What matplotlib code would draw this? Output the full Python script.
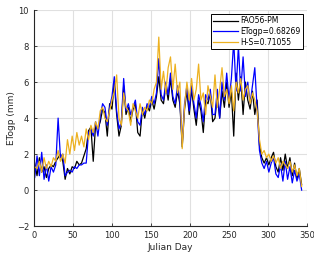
import matplotlib
matplotlib.use("Agg")
import matplotlib.pyplot as plt

days = list(range(1, 344, 3))

fao56_pm = [1.5, 0.8, 1.8, 1.0, 1.3, 0.7, 1.2, 1.4, 1.3, 1.6, 1.8, 2.0, 1.6, 0.6, 1.2, 0.9, 1.3, 1.2, 1.6, 1.4,
            1.5, 1.9, 2.3, 3.3, 3.5, 1.6, 3.6, 3.4, 3.8, 4.5, 4.3, 3.0, 4.8, 4.5, 6.0, 4.2, 3.0, 3.6, 5.8, 4.2,
            4.6, 3.8, 4.5, 4.8, 3.2, 3.0, 4.5, 4.0, 4.7, 4.4, 5.0, 4.5, 5.2, 6.3, 5.0, 4.8, 5.8, 5.0, 6.2, 5.0,
            4.6, 5.5, 4.8, 2.4, 4.5, 5.5, 4.2, 5.6, 4.5, 3.6, 5.0, 4.4, 3.2, 5.0, 4.8, 5.4, 3.8, 4.0, 5.2, 4.0,
            5.5, 4.6, 6.0, 4.6, 5.5, 3.0, 6.5, 5.0, 6.3, 4.2, 6.0, 5.0, 4.5, 5.5, 4.2, 5.0, 2.5, 1.8, 1.5, 1.8,
            1.4, 1.8, 2.1, 1.3, 1.0, 1.8, 1.1, 2.0, 1.2, 1.8, 0.8, 1.5, 0.6, 1.2, 0.3]

etogp = [0.7, 1.9, 0.8, 2.1, 0.6, 1.4, 0.5, 1.3, 1.0, 1.4, 4.0, 1.8, 2.0, 0.8, 1.0, 1.1, 1.0, 1.3, 1.2, 1.4,
         1.4, 1.5, 1.5, 3.2, 3.4, 3.0, 3.8, 3.0, 4.1, 4.8, 4.6, 3.6, 4.6, 5.2, 6.3, 4.4, 3.4, 3.8, 6.2, 4.4,
         4.8, 4.2, 4.6, 5.0, 3.8, 3.6, 4.6, 4.2, 4.8, 4.6, 5.2, 4.8, 5.4, 7.3, 5.3, 5.0, 6.0, 5.3, 6.5, 5.2,
         4.8, 5.8, 5.0, 2.6, 4.8, 5.8, 4.4, 5.8, 4.8, 4.0, 5.3, 4.7, 3.8, 5.3, 5.0, 5.6, 4.2, 4.2, 5.6, 4.0,
         6.0, 5.0, 6.5, 5.0, 6.2, 8.3, 5.5, 8.0, 5.5, 7.4, 5.2, 6.0, 4.8, 5.8, 6.8, 4.5, 2.2, 1.5, 1.2, 1.6,
         1.0, 1.5, 1.8, 0.9, 0.7, 1.4, 0.5, 1.6, 0.6, 1.3, 0.4, 1.1, 0.5, 0.9, 0.0]

hs = [1.3, 1.2, 1.6, 1.0, 1.8, 1.2, 1.6, 1.3, 1.8, 1.6, 2.2, 1.6, 2.0, 1.5, 2.8, 2.0, 3.0, 2.2, 3.2, 2.5,
      3.0, 2.4, 3.4, 2.8, 3.6, 3.2, 3.8, 3.4, 4.4, 4.6, 4.0, 3.8, 4.4, 5.0, 5.5, 6.4, 4.0, 3.6, 5.4, 4.6,
      4.4, 3.6, 4.8, 4.4, 4.0, 4.8, 4.2, 4.6, 4.4, 5.0, 4.8, 5.6, 6.0, 8.5, 5.6, 6.6, 5.4, 6.8, 7.4, 5.6,
      7.0, 5.4, 6.0, 2.3, 4.6, 6.0, 5.0, 6.2, 5.0, 5.6, 7.0, 5.0, 5.4, 4.2, 5.8, 5.2, 4.6, 6.4, 4.6, 5.6,
      6.8, 5.2, 5.6, 4.8, 5.8, 4.4, 6.0, 5.4, 6.2, 5.0, 5.6, 5.8, 4.8, 5.4, 5.0, 4.4, 2.8, 2.0, 2.2, 1.8,
      2.0, 1.6, 1.9, 1.5, 1.8, 1.2, 1.6, 1.4, 1.2, 1.6, 1.0, 1.4, 0.8, 1.2, 0.2]

labels = ["FAO56-PM", "ETogp=0.68269", "H-S=0.71055"]
colors = ["black", (0, 0, 1), (0.929, 0.694, 0.125)]

fig = plt.figure(figsize=(3.14, 2.59), dpi=100)
ax = fig.add_axes([0.108, 0.127, 0.870, 0.834])

for series, lab, col in zip([fao56_pm, etogp, hs], labels, colors):
    ax.plot(days, series, color=col, lw=0.9, label=lab)

ax.set_xlim(0, 350)
ax.set_ylim(-2, 10)
ax.set_xticks([0, 50, 100, 150, 200, 250, 300, 350])
ax.set_yticks([-2, 0, 2, 4, 6, 8, 10])
ax.grid(True, color=(0.88, 0.88, 0.88), lw=0.8)
ax.set_axisbelow(True)
for s in ["top", "right"]:
    ax.spines[s].set_visible(False)
for s in ["left", "bottom"]:
    ax.spines[s].set_color((0.15, 0.15, 0.15))
    ax.spines[s].set_linewidth(0.8)
ax.tick_params(direction="in", length=2.5, labelsize=6, colors=(0.15, 0.15, 0.15), width=0.6)
ax.set_xlabel("Julian Day", fontsize=6.5, color=(0.15, 0.15, 0.15), labelpad=2)
ax.set_ylabel("ETogp (mm)", fontsize=6.5, color=(0.15, 0.15, 0.15), labelpad=0.5)

leg = ax.legend(loc="upper right", fontsize=5.5, frameon=True, fancybox=False,
                edgecolor="black", framealpha=1, borderpad=0.3, labelspacing=0.25,
                handlelength=3.2, handletextpad=0.4, borderaxespad=0.5)
leg.get_frame().set_linewidth(0.7)

fig.savefig("out.png", dpi=100)
